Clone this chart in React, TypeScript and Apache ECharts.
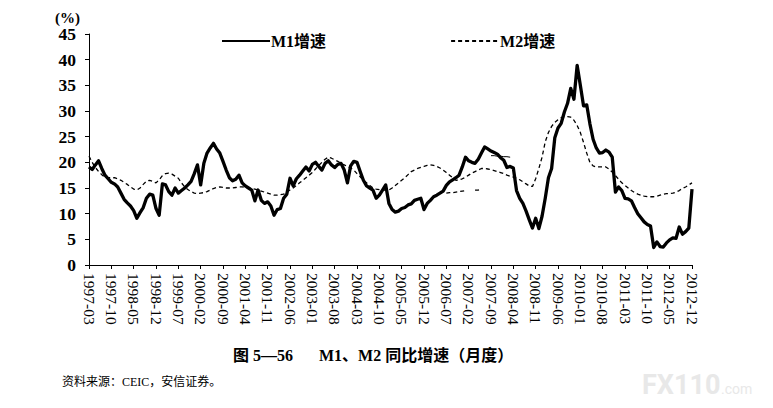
import React, { useEffect, useRef } from "react";
import * as echarts from "echarts";

// Monthly categories 1997-03 .. 2012-12
const startYear = 1997;
const startMonth = 3;
const monthCount = 190;
const months: string[] = [];
for (let k = 0; k < monthCount; k++) {
  const m = startMonth - 1 + k;
  const y = startYear + Math.floor(m / 12);
  const mm = (m % 12) + 1;
  months.push(`${y}-${mm < 10 ? "0" + mm : mm}`);
}

const yTicks = { min: 0, max: 45, step: 5 };

// M1 year-on-year growth (%)
const m1Growth: number[] = [
  19.1, 18.6, 19.5, 20.3, 18.8, 17.5, 16.8, 16.1, 15.8, 15.2,
  14.0, 12.8, 12.1, 11.5, 10.6, 9.1, 10.2, 11.2, 13.0, 13.8,
  13.6, 11.0, 9.7, 15.8, 15.6, 14.3, 13.6, 15.0, 14.0, 14.5,
  15.0, 15.6, 16.3, 17.8, 19.5, 15.6, 19.8, 21.8, 22.8, 23.7,
  22.6, 21.8, 20.2, 18.5, 17.0, 16.4, 16.7, 17.5, 16.0, 15.4,
  15.0, 14.6, 12.5, 14.6, 12.6, 12.0, 12.3, 11.5, 9.7, 10.8,
  11.0, 13.0, 13.8, 16.9, 15.4, 16.8, 17.5, 18.3, 19.1, 18.3,
  19.6, 20.0, 19.2, 18.5, 19.8, 20.3, 19.5, 19.0, 19.6, 19.8,
  18.5, 16.0, 19.3, 20.2, 20.0, 18.2, 16.5, 15.4, 15.0, 14.6,
  13.0, 13.6, 14.6, 15.6, 12.0, 10.8, 10.3, 10.5, 11.0, 11.2,
  11.7, 11.9, 12.6, 12.8, 13.0, 10.8, 12.0, 12.6, 13.3, 13.6,
  14.0, 14.4, 15.5, 16.2, 16.6, 17.0, 17.5, 19.1, 21.0, 20.3,
  20.0, 19.8, 20.6, 21.8, 23.0, 22.6, 22.2, 21.9, 21.6, 20.9,
  20.4, 19.0, 19.2, 18.9, 14.5, 13.0, 12.0, 10.5, 8.8, 7.2,
  9.1, 7.1, 9.5, 13.0, 17.0, 18.8, 24.8, 26.7, 27.6, 29.8,
  31.5, 34.4, 32.3, 38.9, 35.0, 31.0, 31.2, 27.5, 24.5, 22.8,
  21.8, 21.9, 22.4, 22.0, 21.0, 14.2, 15.2, 14.5, 13.0, 12.9,
  12.5, 11.2, 10.0, 9.2, 8.4, 7.9, 7.6, 3.4, 4.5, 3.6,
  3.5, 4.3, 4.9, 5.3, 5.2, 7.4, 6.0, 6.5, 7.2, 14.8,
];

// M2 year-on-year growth (%)
const m2Growth: number[] = [
  21.2, 20.0, 19.0, 18.2, 17.6, 17.1, 17.0, 17.0, 17.0, 16.8,
  16.5, 16.1, 15.7, 15.2, 14.8, 14.6, 15.0, 15.7, 16.3, 16.5,
  16.3, 16.0, 16.6, 17.4, 17.8, 17.9, 17.7, 17.3, 16.9, 16.0,
  15.2, 14.7, 14.3, 14.0, 13.9, 14.0, 14.1, 14.3, 14.6, 14.9,
  15.1, 15.2, 15.1, 15.0, 15.0, 15.0, 15.1, 15.2, 15.2, 15.1,
  15.0, 14.9, 14.8, 14.6, 14.4, 14.2, 14.0, 13.8, 13.6, 13.6,
  13.7, 13.8, 14.2, 14.6, 15.0, 15.5, 16.0, 16.5, 17.0, 17.5,
  18.0, 18.7, 19.4, 20.0, 20.6, 21.0, 20.8, 20.5, 20.2, 19.8,
  19.5, 19.2, 18.9, 18.5, 17.8, 17.2, 16.5, 16.0, 15.5, 15.0,
  14.8, 14.7, 14.6, 14.6, 14.6, 15.0, 15.5, 16.0, 16.5, 17.0,
  17.6, 18.2, 18.5, 18.8, 19.0, 19.2, 19.4, 19.5, 19.4, 19.2,
  18.9, 18.5, 18.0, 17.5, 17.0, 16.5, 16.6, 16.8, 17.1, 17.5,
  17.9, 18.2, 18.5, 18.8, 18.8, 18.7, 18.6, 18.4, 18.2, 18.0,
  17.8, 17.5, 17.3, 17.1, 16.9, 16.6, 16.2, 15.8, 15.4, 15.3,
  16.8, 18.8, 21.0, 24.0, 25.8, 27.0, 27.8, 28.3, 28.7, 28.9,
  28.9, 28.8, 28.2, 27.2, 25.8, 23.9, 21.8, 20.0, 19.3, 19.1,
  19.1, 19.1, 19.1, 18.7, 18.1, 17.4, 16.7, 16.0, 15.5, 15.0,
  14.5, 14.1, 13.8, 13.6, 13.4, 13.3, 13.3, 13.3, 13.4, 13.6,
  13.8, 13.9, 13.9, 14.0, 14.2, 14.5, 14.9, 15.2, 15.6, 16.0,
];

// stray fragments visible in the printed chart
const strayDashStart = 112;
const strayDashValues: (number | null)[] = [14.0, 14.1, 14.1, 14.2, 14.3, 14.4, 14.5, null, null, 14.6, 14.6, 14.7];
const straySolidStart = 126;
const straySolidValues: number[] = [21.3, 21.3, 21.2, 21.2, 21.1, 21.1, 21.0];

function placeFragment(start: number, vals: (number | null)[]): (number | null)[] {
  const out: (number | null)[] = months.map(() => null);
  vals.forEach((v, k) => {
    out[start + k] = v;
  });
  return out;
}

const serif = "'Liberation Serif', 'Times New Roman', 'Noto Sans CJK SC', serif";

export default function App() {
  const ref = useRef<HTMLDivElement>(null);
  useEffect(() => {
    if (!ref.current) return;
    const chart = echarts.init(ref.current, undefined, { renderer: "svg" });
    chart.setOption({
      animation: false,
      backgroundColor: "#ffffff",
      grid: { left: 89, right: 81, top: 34, bottom: 143, containLabel: false },
      legend: {
        data: ["M1增速", "M2增速"],
        left: 216,
        top: 28,
        itemWidth: 48,
        itemHeight: 12,
        itemGap: 124,
        itemStyle: { opacity: 0 },
        textStyle: { fontFamily: serif, fontSize: 16, fontWeight: "bold", color: "#000", padding: [0, 0, 0, -4] },
      },
      xAxis: {
        type: "category",
        data: months,
        boundaryGap: false,
        axisLine: { lineStyle: { color: "#000", width: 1 } },
        axisTick: { interval: 6, length: 4, lineStyle: { color: "#000" } },
        axisLabel: {
          interval: 6,
          rotate: -90,
          margin: 8,
          fontFamily: serif,
          fontSize: 15.5,
          color: "#000",
        },
        splitLine: { show: false },
      },
      yAxis: {
        type: "value",
        min: yTicks.min,
        max: yTicks.max,
        interval: yTicks.step,
        axisLine: { show: true, lineStyle: { color: "#000", width: 1 } },
        axisTick: { show: true, length: 4, lineStyle: { color: "#000" } },
        axisLabel: {
          margin: 13,
          fontFamily: serif,
          fontSize: 17.5,
          fontWeight: "bold",
          color: "#000",
        },
        splitLine: { show: false },
      },
      series: [
        {
          name: "M1增速",
          type: "line",
          data: m1Growth,
          symbol: "none",
          lineStyle: { color: "#000", width: 3.3, type: "solid", join: "round" },
          itemStyle: { color: "#000" },
          z: 3,
        },
        {
          name: "M2增速",
          type: "line",
          data: m2Growth,
          symbol: "none",
          lineStyle: { color: "#000", width: 1.3, type: [4, 3] },
          itemStyle: { color: "#000" },
          z: 2,
        },
        {
          name: "stray-dash",
          type: "line",
          data: placeFragment(strayDashStart, strayDashValues),
          symbol: "none",
          connectNulls: false,
          lineStyle: { color: "#000", width: 1.3, type: [4, 3] },
          silent: true,
        },
        {
          name: "stray-solid",
          type: "line",
          data: placeFragment(straySolidStart, straySolidValues),
          symbol: "none",
          lineStyle: { color: "#000", width: 1 },
          silent: true,
        },
      ],
      graphic: [
        {
          type: "text",
          left: 55,
          top: 10,
          style: { text: "(%)", font: `bold 15px ${serif}`, fill: "#000" },
        },
        {
          type: "text",
          left: 233,
          top: 347,
          style: { text: "图 5—56", font: `bold 16px ${serif}`, fill: "#000" },
        },
        {
          type: "text",
          left: 319,
          top: 347,
          style: { text: "M1、M2 同比增速（月度）", font: `bold 16px ${serif}`, fill: "#000" },
        },
        {
          type: "text",
          left: 62,
          top: 376,
          style: { text: "资料来源：CEIC，安信证券。", font: `12px ${serif}`, fill: "#000" },
        },
        {
          type: "text",
          left: 642,
          top: 371,
          style: { text: "FX110", font: "bold 27px Roboto, sans-serif", fill: "#e8e8e8" },
        },
        {
          type: "text",
          left: 721,
          top: 382,
          style: { text: ".com", font: "14px Roboto, sans-serif", fill: "#e8e8e8" },
        },
      ],
    });
    return () => chart.dispose();
  }, []);
  return (
    <div
      ref={ref}
      style={{ position: "absolute", left: 0, top: 0, width: 773, height: 408 }}
    />
  );
}
